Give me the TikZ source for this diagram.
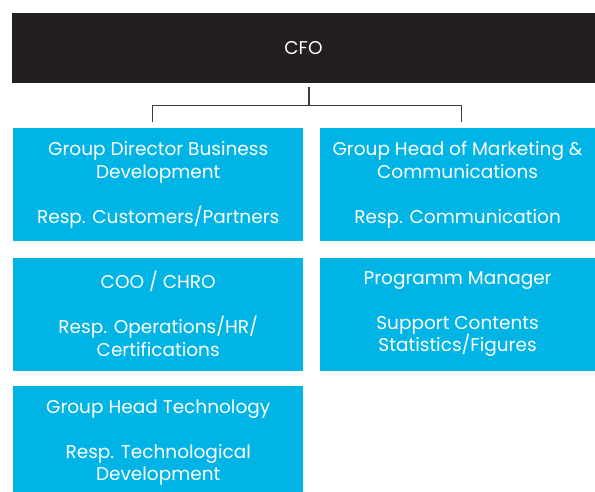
\documentclass[tikz,border=0pt]{standalone}
\usepackage{fontspec}
\setmainfont{Poppins}
\usetikzlibrary{positioning}

\definecolor{cfoblack}{HTML}{231F20}
\definecolor{orgblue}{HTML}{00B4E6}
\definecolor{linkgray}{HTML}{3C3C3C}

\begin{document}
\begin{tikzpicture}[x=1pt, y=-1pt, font=\fontsize{18.5}{22.5}\selectfont]

    \tikzstyle{head}=[fill=cfoblack, text=white, minimum width=583pt, minimum height=70pt, inner sep=0pt]
    \tikzstyle{unit}=[fill=orgblue, text=white, align=center, minimum height=113pt, inner sep=0pt, anchor=north west]
    \tikzstyle{link}=[draw=linkgray, line width=1.1pt]

    \useasboundingbox (0,0) rectangle (595,491);
    \clip (0,0) rectangle (595,491);

    \node[head] (cfo) at (303.5,48) {CFO};

    \node[unit, minimum width=290pt] (bizdev) at (13,128)
        {Group Director Business\\Development\\[22.5pt]Resp. Customers/Partners};
    \node[unit, minimum width=276pt, right=16pt of bizdev.north east, anchor=north west] (marcom)
        {Group Head of Marketing \&\\Communications\\[22.5pt]Resp. Communication};
    \node[unit, minimum width=290pt, below=16pt of bizdev.south west, anchor=north west] (coo)
        {COO / CHRO\\[22.5pt]Resp. Operations/HR/\\Certifications};
    \node[unit, minimum width=276pt, below=16pt of marcom.south west, anchor=north west] (progman)
        {Programm Manager\\[22.5pt]Support Contents\\Statistics/Figures};
    \node[unit, minimum width=290pt, below=15pt of coo.south west, anchor=north west] (tech)
        {Group Head Technology\\[22.5pt]Resp. Technological\\Development};

    % fork below the CFO
    \coordinate (fork) at ([xshift=5.5pt, yshift=-22pt]cfo.south);
    \draw[link] ([xshift=5.5pt, yshift=-4pt]cfo.south) -- (fork);
    \draw[link] (fork) -| ([xshift=-6pt, yshift=6pt]bizdev.north);
    \draw[link] (fork) -| ([xshift=4pt, yshift=6pt]marcom.north);

\end{tikzpicture}
\end{document}
